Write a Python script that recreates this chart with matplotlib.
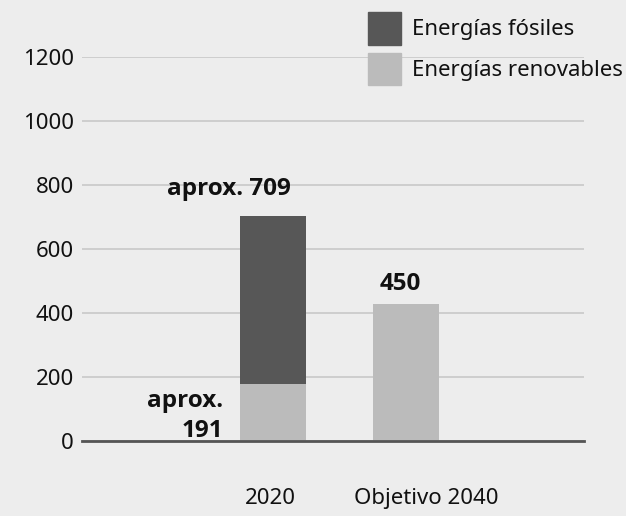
import matplotlib
matplotlib.use("Agg")
import matplotlib.pyplot as plt
from matplotlib.patches import Patch
from matplotlib.transforms import ScaledTranslation

# Datos
categorias = ["2020", "Objetivo 2040"]
renovables = [178, 428]
fosiles = [525, 0]
etiquetas = ["aprox. 709", "450"]
etiqueta_renov_2020 = "aprox.\n191"
yticks = [0, 200, 400, 600, 800, 1000, 1200]

c_fondo = "#ededed"
c_fosil = "#575757"
c_renov = "#bbbbbb"
c_texto = "#111111"

plt.rcParams['font.family'] = ['Noto Sans', 'DejaVu Sans']
negrita = dict(family=['Open Sans', 'DejaVu Sans'], fontweight='bold', fontsize=17.5, color=c_texto)

fig = plt.figure(figsize=(6.26, 5.16), dpi=100, facecolor=c_fondo)
ax = fig.add_axes([82 / 626, 1 - 441 / 516, 502 / 626, 384 / 516])
ax.set_facecolor(c_fondo)

x = [0, 1]
ax.bar(x, renovables, width=0.5, color=c_renov, zorder=3)
ax.bar(x, fosiles, width=0.5, bottom=renovables, color=c_fosil, zorder=3)

ax.set_xlim(-1.436, 2.338)
ax.set_ylim(0, 1200)
ax.set_yticks(yticks)
ax.set_yticklabels([str(v) for v in yticks], fontsize=16, color=c_texto)
ax.grid(axis='y', color="#c8c8c8", linewidth=1.2, zorder=0)
ax.tick_params(axis='both', length=0)
ax.tick_params(axis='y', pad=6)
ax.tick_params(axis='x', pad=34)

ax.set_xticks(x)
ax.set_xticklabels(categorias, fontsize=16, color=c_texto)
desplaz = [-3, 20]
for lab, dx in zip(ax.get_xticklabels(), desplaz):
    lab.set_transform(lab.get_transform() + ScaledTranslation(dx / 100, 0, fig.dpi_scale_trans))

for s in ['top', 'right', 'left']:
    ax.spines[s].set_visible(False)
ax.spines['bottom'].set_color("#555555")
ax.spines['bottom'].set_linewidth(2)
ax.spines['bottom'].set_zorder(4)

totales = [r + f for r, f in zip(renovables, fosiles)]
ax.annotate(etiquetas[0], xy=(x[0], totales[0]), xytext=(-32, 11),
            textcoords='offset points', ha='center', va='bottom', **negrita)
ax.annotate(etiquetas[1], xy=(x[1], totales[1]), xytext=(-4, 6),
            textcoords='offset points', ha='center', va='bottom', **negrita)
ax.annotate(etiqueta_renov_2020, xy=(x[0] - 0.25, 0), xytext=(-12, -1.5),
            textcoords='offset points', ha='right', va='bottom',
            linespacing=1.35, **negrita)

handles = [Patch(color=c_fosil, label="Energías fósiles"),
           Patch(color=c_renov, label="Energías renovables")]
fig.legend(handles=handles, loc='upper left', bbox_to_anchor=(359 / 626, 1 - 3 / 516),
           frameon=False, fontsize=16, handlelength=1.5, handleheight=1.9,
           handletextpad=0.5, labelspacing=0.35, borderaxespad=0, labelcolor=c_texto)

fig.savefig("out.png", dpi=100, facecolor=c_fondo)
